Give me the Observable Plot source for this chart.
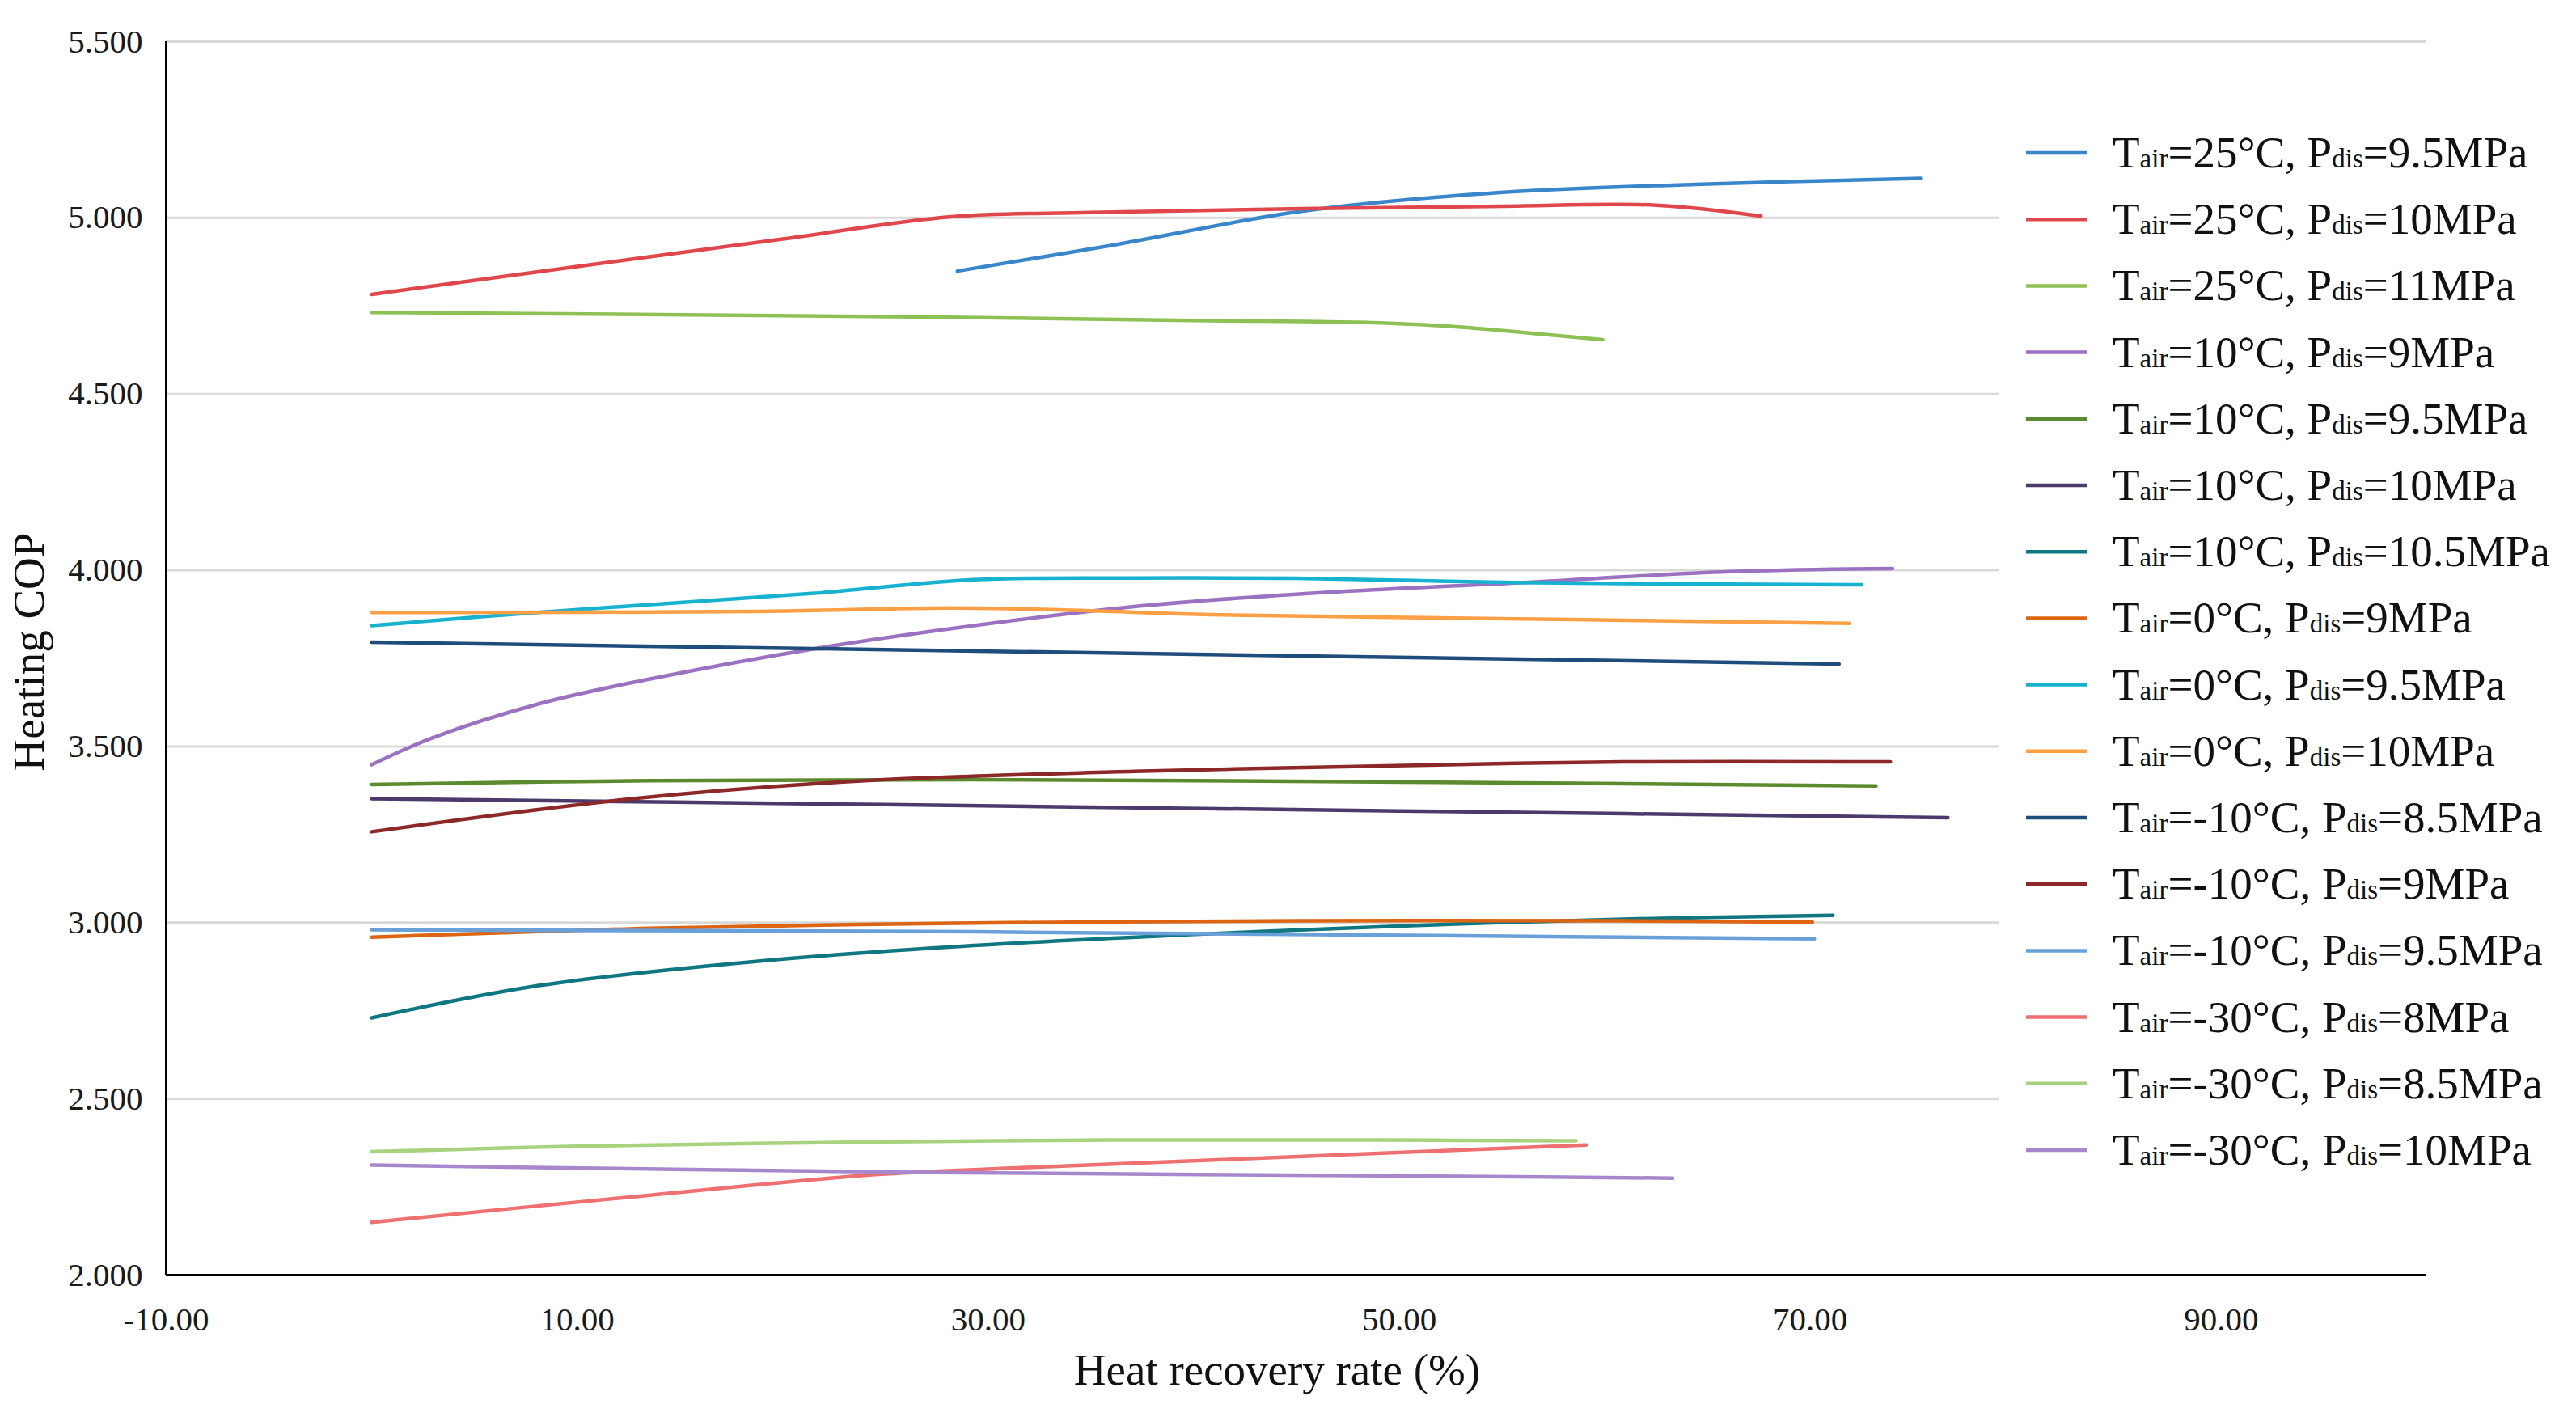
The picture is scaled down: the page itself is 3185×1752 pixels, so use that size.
<!DOCTYPE html>
<html><head><meta charset="utf-8">
<script src="https://cdn.jsdelivr.net/npm/d3@7"></script>
<script src="https://cdn.jsdelivr.net/npm/@observablehq/plot@0.6"></script>
<style>
body{margin:0;background:#fff;}
#wrap{position:relative;width:3185px;height:1752px;background:#fff;}
#wrap svg{position:absolute;left:0;top:0;}
</style></head><body><div id="wrap"></div>
<script>
// ---- data ----
const tairs = [25, 25, 25, 10, 10, 10, 10, 0, 0, 0, -10, -10, -10, -30, -30, -30];
const pdis  = ["9.5", "10", "11", "9", "9.5", "10", "10.5", "9", "9.5", "10", "8.5", "9", "9.5", "8", "8.5", "10"];
const colors = ["#3a86cb", "#e0474c", "#8dc153", "#9b72c2", "#5b8a2f", "#4c3a6c", "#0f7782",
                "#dd6410", "#17b2cf", "#fda045", "#1e4d7b", "#8c2828", "#6aa0d9", "#ee7070", "#a8d27e", "#a788cc"];
const xTicks = [-10, 10, 30, 50, 70, 90];
const yTicks = [2.0, 2.5, 3.0, 3.5, 4.0, 4.5, 5.0, 5.5];

const s25_95 = [[28.5,4.849],[35.8,4.920],[45.3,5.019],[54.9,5.072],[64.4,5.095],[75.4,5.112]];
const s25_10 = [[0,4.783],[10,4.862],[20,4.940],[28.2,5.003],[35,5.015],[45.3,5.026],[55,5.033],[62.5,5.036],[67.6,5.005]];
const s25_11 = [[0,4.732],[13,4.726],[26.3,4.719],[40,4.709],[49.1,4.702],[52.5,4.692],[56,4.675],[59.9,4.654]];
const s10_9  = [[0,3.448],[2.9,3.523],[8.2,3.622],[13.5,3.691],[21.4,3.776],[29.3,3.843],[37.1,3.897],[45,3.932],[55.6,3.964],[66.1,3.996],[74,4.005]];
const s10_95 = [[0,3.392],[13.5,3.403],[29.3,3.406],[50.3,3.399],[73.2,3.388]];
const s10_10 = [[0,3.352],[25,3.335],[50,3.317],[76.7,3.298]];
const s10_105= [[0,2.730],[8.2,2.822],[18.7,2.890],[29.3,2.935],[39.8,2.966],[50.3,2.991],[60.9,3.010],[71.1,3.021]];
const s0_9   = [[0,2.959],[13.5,2.984],[29.3,2.999],[45,3.005],[60.9,3.005],[70.1,3.001]];
const s0_95  = [[0,3.843],[8.2,3.881],[21.4,3.934],[29.3,3.973],[37.1,3.978],[45,3.977],[55.6,3.965],[64.3,3.961],[72.5,3.959]];
const s0_10  = [[0,3.880],[18.7,3.883],[28.2,3.893],[34.5,3.886],[40.8,3.874],[50.3,3.866],[60.9,3.858],[71.9,3.849]];
const sm10_85= [[0,3.796],[35,3.766],[71.4,3.734]];
const sm10_9 = [[0,3.258],[12.4,3.350],[24,3.403],[37.1,3.429],[50.3,3.446],[60.9,3.456],[73.9,3.456]];
const sm10_95= [[0,2.980],[29.3,2.974],[50.3,2.964],[70.2,2.954]];
const sm30_8 = [[0,2.150],[12,2.218],[24.5,2.285],[31.8,2.305],[44.6,2.335],[59.1,2.369]];
const sm30_85= [[0,2.350],[10.4,2.366],[23.3,2.377],[36,2.383],[48.8,2.383],[58.6,2.381]];
const sm30_10= [[0,2.312],[14.7,2.300],[27.5,2.291],[40.3,2.285],[53.1,2.280],[63.3,2.275]];

const series = [s25_95, s25_10, s25_11, s10_9, s10_95, s10_10, s10_105, s0_9, s0_95, s0_10,
                sm10_85, sm10_9, sm10_95, sm30_8, sm30_85, sm30_10];
const names = tairs.map((t, i) => `Tair=${t}°C, Pdis=${pdis[i]}MPa`);
const rows = series.flatMap((s, i) => s.map(([x, y]) => ({name: names[i], x, y})));

// ---- chart ----
const W = 3185, H = 1752;
const font = '"Liberation Serif", "Times New Roman", serif';
const chart = Plot.plot({
  width: W, height: H,
  marginLeft: 205, marginRight: 185, marginTop: 51, marginBottom: 176,
  style: {fontFamily: font, fontSize: "41px", color: "#1a1a1a", background: "#fff"},
  x: {domain: [-10, 100]},
  y: {domain: [2, 5.5]},
  color: {domain: names, range: colors},
  marks: [
    Plot.gridY(yTicks.filter(v => v > 2), {stroke: "#d9d9d9", strokeOpacity: 1, strokeWidth: 3}),
    Plot.axisY(yTicks, {tickSize: 0, tickPadding: 29, tickFormat: v => v.toFixed(3), label: null, fontSize: 41}),
    Plot.axisX(xTicks, {tickSize: 0, tickPadding: 39, tickFormat: v => v.toFixed(2), label: null, fontSize: 41}),
    Plot.line(rows, {x: "x", y: "y", z: "name", stroke: "name", strokeWidth: 4.5, curve: "catmull-rom"}),
    Plot.ruleX([-10], {stroke: "#000", strokeWidth: 3}),
    Plot.ruleY([2], {stroke: "#000", strokeWidth: 3})
  ]
});
const wrap = document.getElementById("wrap");
wrap.appendChild(chart);

// ---- overlay: legend and axis titles ----
const ns = "http://www.w3.org/2000/svg";
const ov = d3.select(wrap).append("svg")
  .attr("width", W).attr("height", H)
  .attr("font-family", font).attr("fill", "#111");

ov.append("text").attr("x", 1579).attr("y", 1712).attr("text-anchor", "middle")
  .attr("font-size", 55).text("Heat recovery rate (%)");
ov.append("text").attr("transform", "translate(54,806) rotate(-90)").attr("text-anchor", "middle")
  .attr("font-size", 55).text("Heating COP");

const lg = ov.append("g");
lg.append("rect").attr("x", 2472).attr("y", 122).attr("width", W - 2472).attr("height", 1356).attr("fill", "#fff");
names.forEach((n, i) => {
  const cy = 189 + i * 82.2;
  lg.append("line").attr("x1", 2505).attr("x2", 2580).attr("y1", cy).attr("y2", cy)
    .attr("stroke", colors[i]).attr("stroke-width", 4.5);
  const t = lg.append("text").attr("x", 2612).attr("y", cy + 18).attr("font-size", 55);
  t.append("tspan").text("T");
  t.append("tspan").attr("font-size", 33).text("air");
  t.append("tspan").text(`=${tairs[i]}°C, P`);
  t.append("tspan").attr("font-size", 33).text("dis");
  t.append("tspan").text(`=${pdis[i]}MPa`);
});
</script>
</body></html>
